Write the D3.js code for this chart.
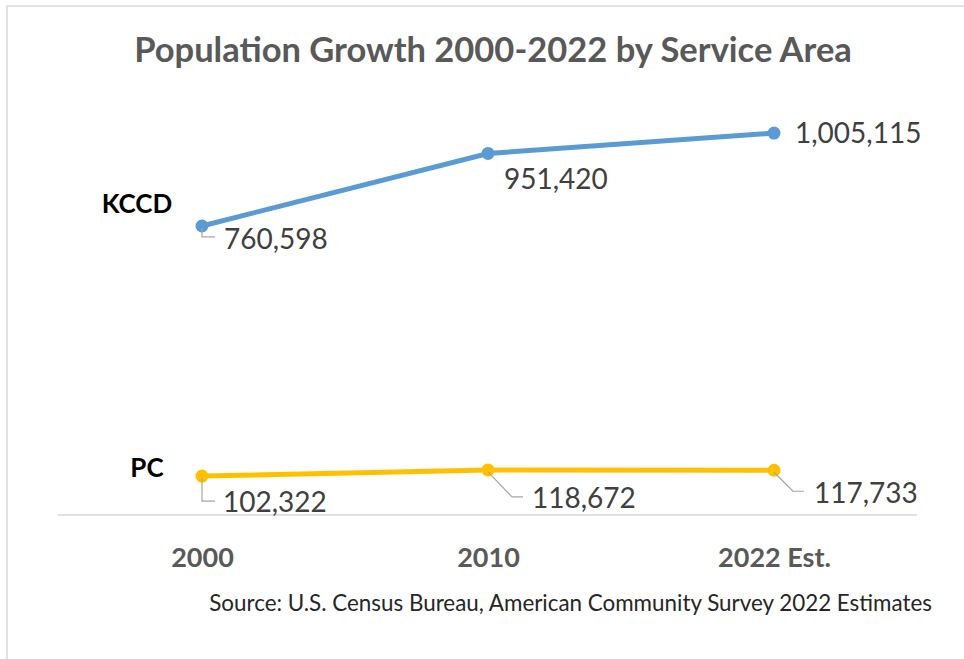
<!DOCTYPE html>
<html>
<head>
<meta charset="utf-8">
<script src="https://cdnjs.cloudflare.com/ajax/libs/d3/7.8.5/d3.min.js"></script>
<style>
  body { margin: 0; background: #fff; }
  text { font-family: Lato, "Open Sans", sans-serif; }
</style>
</head>
<body>
<div id="chart"></div>
<script>
// --- données ---
const years = ["2000", "2010", "2022 Est."];
const seriesNames = ["KCCD", "PC"];
const kccd = [760598, 951420, 1005115];
const pc = [102322, 118672, 117733];
const seriesColors = ["#5B9BD5", "#FFC000"];

const width = 964, height = 659;

const svg = d3.select("#chart").append("svg")
    .attr("width", width)
    .attr("height", height);

// cadre gris clair (haut + gauche)
svg.append("path")
    .attr("d", `M7,${height} V6 H${width}`)
    .attr("fill", "none")
    .attr("stroke", "#d9d9d9")
    .attr("stroke-width", 1.5);

const x = d3.scalePoint().domain(years).range([202, 774]);
const y = d3.scaleLinear().domain([0, 1200000]).range([515, 59]);

// titre
svg.append("text")
    .attr("x", 493).attr("y", 62)
    .attr("text-anchor", "middle")
    .attr("font-size", 34.5).attr("font-weight", "bold")
    .attr("fill", "#595959")
    .text("Population Growth 2000-2022 by Service Area");

// ligne d'axe
svg.append("line")
    .attr("x1", 58).attr("x2", 917)
    .attr("y1", y(0)).attr("y2", y(0))
    .attr("stroke", "#d9d9d9").attr("stroke-width", 1.5);

// étiquettes des catégories
const xAxis = d3.axisBottom(x).tickSize(0).tickPadding(33);
const gx = svg.append("g").attr("transform", `translate(0,${y(0)})`).call(xAxis);
gx.select(".domain").remove();
gx.selectAll("text")
    .attr("font-size", 27).attr("font-weight", "bold")
    .attr("fill", "#595959")
    .style("font-family", "Lato, 'Open Sans', sans-serif");

const line = d3.line().x((d, i) => x(years[i])).y(d => y(d));

const data = [kccd, pc];
data.forEach((vals, s) => {
    svg.append("path")
        .datum(vals)
        .attr("d", line)
        .attr("fill", "none")
        .attr("stroke", seriesColors[s])
        .attr("stroke-width", 5)
        .attr("stroke-linecap", "round");
    svg.selectAll(null)
        .data(vals)
        .join("circle")
        .attr("cx", (d, i) => x(years[i]))
        .attr("cy", d => y(d))
        .attr("r", 6.5)
        .attr("fill", seriesColors[s]);
});

// noms des séries
svg.append("text").attr("x", 137).attr("y", 213)
    .attr("text-anchor", "middle").attr("font-size", 26).attr("font-weight", "bold")
    .attr("fill", "#000").text(seriesNames[0]);
svg.append("text").attr("x", 147).attr("y", 477)
    .attr("text-anchor", "middle").attr("font-size", 26).attr("font-weight", "bold")
    .attr("fill", "#000").text(seriesNames[1]);

// étiquettes de valeurs (décalages par rapport au point)
const fmt = d3.format(",");
const labelOffsets = [
    [[22, 23], [16, 36], [21, 10]],
    [[21, 36], [44, 38], [40, 33]]
];
// lignes de rappel : null = pas de ligne
const leaders = [
    [[[0, 11], [13, 11]], null, null],
    [[[0, 25], [13, 25]], [[24, 27], [35, 27]], [[19, 21], [30, 21]]]
];
data.forEach((vals, s) => {
    vals.forEach((v, i) => {
        const px = x(years[i]), py = y(v);
        const lead = leaders[s][i];
        if (lead) {
            svg.append("path")
                .attr("d", `M${px},${py + 2} L${px + lead[0][0]},${py + lead[0][1]} L${px + lead[1][0]},${py + lead[1][1]}`)
                .attr("fill", "none")
                .attr("stroke", "#a6a6a6")
                .attr("stroke-width", 1.2);
        }
        svg.append("text")
            .attr("x", px + labelOffsets[s][i][0])
            .attr("y", py + labelOffsets[s][i][1])
            .attr("font-size", 28)
            .attr("fill", "#404040")
            .text(fmt(v));
    });
});

// source
svg.append("text")
    .attr("x", 932).attr("y", 611)
    .attr("text-anchor", "end")
    .attr("font-size", 22.4)
    .attr("fill", "#262626")
    .text("Source: U.S. Census Bureau, American Community Survey 2022 Estimates");
</script>
</body>
</html>
